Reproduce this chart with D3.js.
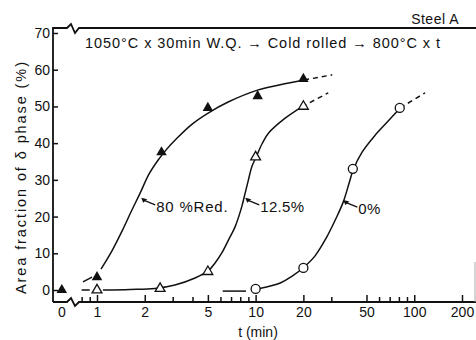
<!DOCTYPE html>
<html>
<head>
<meta charset="utf-8">
<script src="https://cdn.jsdelivr.net/npm/d3@7"></script>
<style>
  body { margin: 0; background: #fff; }
  text { font-family: "Liberation Sans", Arial, sans-serif; fill: #111; }
</style>
</head>
<body>
<div id="chart"></div>
<script>
// measured points (t in min, area fraction in %), t = 0 drawn at the "0" slot
const timeRed80 = [0, 1, 2.55, 5, 10.3, 20];
const areaRed80 = [0, 3.5, 37.5, 49.6, 52.8, 57.5];
const timeRed12 = [1, 2.5, 5, 10, 20];
const areaRed12 = [0, 0.4, 5, 36.2, 50];
const timeRed0 = [10, 20, 41, 81];
const areaRed0 = [0.3, 6, 33, 49.6];

// hand drawn curves
const fitTime80 = [1.06, 1.24, 1.44, 1.64, 1.87, 2.13, 2.43, 2.72, 3.2, 3.98, 5.02, 6.71, 10.4, 14.3, 20.2];
const fitArea80 = [5.7, 10.6, 16.1, 21.3, 26.4, 31.6, 35.4, 38.1, 41.4, 45.2, 48.2, 51.2, 54.5, 55.9, 57.2];
const fitTime12 = [1.09, 1.615, 2.32, 3.1, 4.15, 5.04, 5.55, 6.12, 6.74, 7.42, 8.18, 8.59, 9.01, 9.46, 10.07, 11, 12.04, 15.35, 19.56];
const fitArea12 = [0, 0.14, 0.41, 1.36, 3.27, 5.26, 7.36, 10.1, 13.6, 17.2, 22.7, 26.4, 30, 33.6, 36.2, 39.9, 42.7, 46.8, 49.9];
const fitTime0 = [10.6, 14.3, 17, 19.9, 23.7, 27.9, 32.2, 35.7, 38.9, 41.2, 47, 56.8, 68.5, 81.5];
const fitArea0 = [0.4, 1.9, 3.8, 6, 9.3, 14.2, 19.6, 24, 29.2, 32.7, 37.6, 42.2, 46, 49.6];
// dashed continuations [start, end]
const headTime = [[0.816, 0.93], [0.8, 0.9], [6.2, 8.7]];
const headArea = [[2.2, 3.5], [0, 0], [-0.3, -0.3]];
const tailTime = [[20.2, 30.4], [19.56, 28.7], [81.5, 117]];
const tailArea = [[57.2, 58.6], [49.9, 53.7], [49.6, 53.7]];

const seriesLabels = ["80 %Red.", "12.5%", "0%"];
const labelTime = [1.9, 8.6, 35.7];
const labelArea = [25.1, 25.1, 24.5];

const xMajor = [1, 2, 5, 10, 20, 50, 100, 200];
const xMinor = [0.8, 0.9, 3, 4, 6, 7, 8, 9, 30, 60, 70, 80, 90];
const yTicks = [0, 10, 20, 30, 40, 50, 60, 70];
const zeroSlot = 0.6; // where t = 0 sits on the broken log axis

const W = 476, H = 340;
const frame = { left: 53, top: 28, right: 476, bottom: 302 };

const svg = d3.select("#chart").append("svg")
  .attr("width", W).attr("height", H);

const x = d3.scaleLog().domain([1, 200]).range([97, 462]);
const y = d3.scaleLinear().domain([0, 70]).range([290, 33]);
const xt = t => x(t === 0 ? zeroSlot : t);

// frame with breaks
const brk = [67, 71, 75, 79];
svg.append("path")
  .attr("d", `M${frame.left},${frame.bottom}L${frame.left},${frame.top}L${brk[0]},${frame.top}` +
    `L${brk[1]},${frame.top - 4}L${brk[2]},${frame.top + 5}L${brk[3]},${frame.top}L${frame.right},${frame.top}`)
  .attr("fill", "none").attr("stroke", "#111").attr("stroke-width", 1.8);
svg.append("path")
  .attr("d", `M${frame.left},${frame.bottom}L${brk[0]},${frame.bottom}` +
    `L${brk[1]},${frame.bottom - 4}L${brk[2]},${frame.bottom + 4}L${brk[3]},${frame.bottom}L${frame.right},${frame.bottom}`)
  .attr("fill", "none").attr("stroke", "#111").attr("stroke-width", 1.8);
svg.append("line")
  .attr("x1", 475).attr("x2", 475).attr("y1", 262).attr("y2", frame.bottom)
  .attr("stroke", "#aaa").attr("stroke-width", 1);

// axes
const styleAxis = g => {
  g.select(".domain").remove();
  g.selectAll("line").attr("stroke", "#111").attr("stroke-width", 1.5);
  g.selectAll("text").attr("font-size", 14).style("font-family", '"Liberation Sans", Arial, sans-serif');
};
svg.append("g").attr("transform", `translate(${frame.left},0)`)
  .call(d3.axisLeft(y).tickValues(yTicks).tickSize(-5).tickPadding(3))
  .call(styleAxis);
svg.append("g").attr("transform", `translate(0,${frame.bottom})`)
  .call(d3.axisBottom(x).tickValues(xMajor).tickFormat(d3.format("d")).tickSize(-7).tickPadding(5))
  .call(styleAxis);
svg.append("g").attr("transform", `translate(0,${frame.bottom})`)
  .call(d3.axisBottom(x).tickValues(xMinor).tickFormat("").tickSize(-5))
  .call(styleAxis);
svg.append("text").attr("x", xt(0)).attr("y", frame.bottom + 15)
  .attr("text-anchor", "middle").attr("font-size", 14).text("0");

svg.append("text").attr("x", 258).attr("y", 337)
  .attr("text-anchor", "middle").attr("font-size", 14).text("t (min)");
svg.append("text")
  .attr("transform", "translate(26,178) rotate(-90)")
  .attr("text-anchor", "middle").attr("font-size", 14.5)
  .attr("textLength", 232).attr("lengthAdjust", "spacing")
  .text("Area fraction of δ phase (%)");
svg.append("text").attr("x", 459).attr("y", 24)
  .attr("text-anchor", "end").attr("font-size", 14).attr("letter-spacing", 0.5).text("Steel A");
svg.append("text").attr("x", 85).attr("y", 48)
  .attr("font-size", 14.5).attr("textLength", 355).attr("lengthAdjust", "spacing")
  .text("1050°C x 30min W.Q. → Cold rolled → 800°C x t");

// curves
const line = d3.line().x(d => xt(d[0])).y(d => y(d[1])).curve(d3.curveCatmullRom.alpha(0.5));
const fits = [[fitTime80, fitArea80], [fitTime12, fitArea12], [fitTime0, fitArea0]];
fits.forEach(([ts, vs], i) => {
  svg.append("path").datum(ts.map((t, j) => [t, vs[j]]))
    .attr("d", line).attr("fill", "none").attr("stroke", "#111").attr("stroke-width", 1.5);
  svg.append("path").datum(headTime[i].map((t, j) => [t, headArea[i][j]]))
    .attr("d", line).attr("fill", "none").attr("stroke", "#111").attr("stroke-width", 1.5);
  svg.append("path").datum(tailTime[i].map((t, j) => [t, tailArea[i][j]]))
    .attr("d", line).attr("fill", "none").attr("stroke", "#111").attr("stroke-width", 1.5)
    .attr("stroke-dasharray", "5,4");
});

// markers
const tri = d3.symbol(d3.symbolTriangle, 48);
svg.append("g").selectAll("path").data(timeRed80.map((t, i) => [t, areaRed80[i]])).join("path")
  .attr("d", tri).attr("transform", d => `translate(${xt(d[0])},${y(d[1])})`)
  .attr("fill", "#111");
svg.append("g").selectAll("path").data(timeRed12.map((t, i) => [t, areaRed12[i]])).join("path")
  .attr("d", d3.symbol(d3.symbolTriangle, 42)).attr("transform", d => `translate(${xt(d[0])},${y(d[1])})`)
  .attr("fill", "#fff").attr("stroke", "#111").attr("stroke-width", 1.3);
svg.append("g").selectAll("circle").data(timeRed0.map((t, i) => [t, areaRed0[i]])).join("circle")
  .attr("cx", d => xt(d[0])).attr("cy", d => y(d[1])).attr("r", 4.5)
  .attr("fill", "#fff").attr("stroke", "#111").attr("stroke-width", 1.3);

// curve labels with arrows
seriesLabels.forEach((lab, i) => {
  const px = xt(labelTime[i]), py = y(labelArea[i]);
  svg.append("path")
    .attr("d", `M${px},${py}L${px + 6},${py + 1.5}L${px + 2},${py + 5}Z`)
    .attr("fill", "#111");
  svg.append("line").attr("x1", px + 3).attr("y1", py + 2.5).attr("x2", px + 14).attr("y2", py + 7)
    .attr("stroke", "#111").attr("stroke-width", 1.3);
  svg.append("text").attr("x", px + 15).attr("y", py + 14)
    .attr("font-size", 15).attr("letter-spacing", i === 0 ? 0.8 : 0.3).text(lab);
});
</script>
</body>
</html>
